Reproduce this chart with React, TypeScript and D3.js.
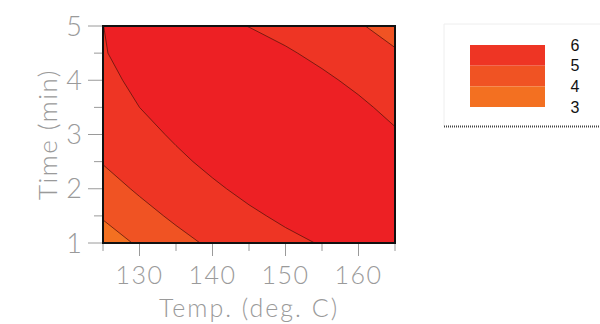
import React, { useMemo } from 'react';
import * as d3 from 'd3';

const WIDTH = 600;
const HEIGHT = 324;

// grid: columns = temperature, rows = time
const temps = [125, 130, 135, 140, 145, 150, 155, 160, 165];
const times = [1, 1.5, 2, 2.5, 3, 3.5, 4, 4.5, 5];
const response = [
  [3.49, 4.13, 4.69, 5.16, 5.54, 5.84, 6.04, 6.16, 6.19],
  [4.09, 4.67, 5.17, 5.57, 5.89, 6.12, 6.26, 6.32, 6.29],
  [4.61, 5.13, 5.56, 5.9, 6.16, 6.32, 6.4, 6.39, 6.3],
  [5.05, 5.5, 5.87, 6.15, 6.34, 6.44, 6.46, 6.39, 6.23],
  [5.4, 5.79, 6.09, 6.31, 6.44, 6.48, 6.43, 6.29, 6.07],
  [5.67, 6.0, 6.24, 6.39, 6.45, 6.43, 6.32, 6.12, 5.83],
  [5.86, 6.12, 6.29, 6.38, 6.38, 6.3, 6.12, 5.86, 5.51],
  [5.975, 6.16, 6.27, 6.29, 6.23, 6.08, 5.84, 5.51, 5.1],
  [5.998, 6.11, 6.16, 6.12, 5.99, 5.78, 5.48, 5.09, 4.61],
];

const levels = [3, 4, 5, 6];
const levelColors = ['#F37021', '#F05323', '#EE3524', '#ED2024'];
const legendLevels = [6, 5, 4, 3];

const xMajor = [130, 140, 150, 160];
const xMinor = [125, 135, 145, 155, 165];
const yMajor = [1, 2, 3, 4, 5];
const yMinor = [1.5, 2.5, 3.5, 4.5];

const margin = { l: 103, r: 205, t: 26, b: 81 };
const plotW = WIDTH - margin.l - margin.r;
const plotH = HEIGHT - margin.t - margin.b;

const axisFont = "'DejaVu Sans ExtraLight', 'Lato Light', 'DejaVu Sans', sans-serif";
const axisGray = '#9a9a9a';

const App = () => {
  const xScale = d3.scaleLinear().domain([125, 165]).range([0, plotW]);
  const yScale = d3.scaleLinear().domain([1, 5]).range([plotH, 0]);

  // contour grid coords: value i sits at i + 0.5
  const gx = d3.scaleLinear().domain([0.5, temps.length - 0.5]).range([xScale(temps[0]), xScale(temps[temps.length - 1])]);
  const gy = d3.scaleLinear().domain([0.5, times.length - 0.5]).range([yScale(times[0]), yScale(times[times.length - 1])]);

  const bands = useMemo(() => {
    const values = response.flat();
    const gen = d3.contours().size([temps.length, times.length]).thresholds(levels);
    const path = d3.geoPath();
    return gen(values).map((c) => {
      const coords = c.coordinates.map((poly) =>
        poly.map((ring) => ring.map(([a, b]) => [gx(a), gy(b)]))
      );
      return { value: c.value, d: path({ type: 'MultiPolygon', coordinates: coords } as any) || '' };
    });
  }, []);

  const ly = d3.scaleLinear().domain([6, 3]).range([45, 107]);

  return (
    <svg width={WIDTH} height={HEIGHT} style={{ position: 'absolute', left: 0, top: 0 }}>
      <defs>
        <clipPath id="plot-clip">
          <rect x={0} y={0} width={plotW} height={plotH} />
        </clipPath>
      </defs>
      <rect width={WIDTH} height={HEIGHT} fill="#fff" />
      <g transform={`translate(${margin.l}, ${margin.t})`}>
        <g clipPath="url(#plot-clip)">
          {bands.map((b, i) => (
            <path key={`f-${i}`} d={b.d} fill={levelColors[i]} stroke="none" />
          ))}
          {bands.slice(1).map((b, i) => (
            <path key={`s-${i}`} d={b.d} fill="none" stroke="rgba(80,20,10,0.8)" strokeWidth={0.9} />
          ))}
        </g>
        <rect x={0} y={0} width={plotW} height={plotH} fill="none" stroke="#111" strokeWidth={2} />

        {/* x ticks */}
        {xMajor.map((v) => (
          <line key={`xM-${v}`} x1={xScale(v)} x2={xScale(v)} y1={plotH + 1} y2={plotH + 13} stroke={axisGray} />
        ))}
        {xMinor.map((v) => (
          <line key={`xm-${v}`} x1={xScale(v)} x2={xScale(v)} y1={plotH + 1} y2={plotH + 8} stroke={axisGray} />
        ))}
        {xMajor.map((v) => (
          <text
            key={`xt-${v}`}
            x={xScale(v)}
            y={plotH + 41}
            textAnchor="middle"
            fontFamily={axisFont}
            fontWeight={200}
            fontSize={25}
            letterSpacing={1.5}
            fill={axisGray}
          >
            {v}
          </text>
        ))}
        <text
          x={plotW / 2}
          y={plotH + 74}
          textAnchor="middle"
          fontFamily={axisFont}
          fontWeight={200}
          fontSize={25}
          letterSpacing={2}
          fill={axisGray}
        >
          Temp. (deg. C)
        </text>

        {/* y ticks */}
        {yMajor.map((v) => (
          <line key={`yM-${v}`} x1={-15} x2={-1} y1={yScale(v)} y2={yScale(v)} stroke={axisGray} />
        ))}
        {yMinor.map((v) => (
          <line key={`ym-${v}`} x1={-9} x2={-1} y1={yScale(v)} y2={yScale(v)} stroke={axisGray} />
        ))}
        {yMajor.map((v) => (
          <text
            key={`yt-${v}`}
            x={-21}
            y={yScale(v)}
            dy="0.36em"
            textAnchor="end"
            fontFamily={axisFont}
            fontWeight={200}
            fontSize={27}
            fill={axisGray}
          >
            {v}
          </text>
        ))}
        <text
          transform={`translate(${-46}, ${plotH / 2}) rotate(-90)`}
          textAnchor="middle"
          fontFamily={axisFont}
          fontWeight={200}
          fontSize={26}
          letterSpacing={1.5}
          fill={axisGray}
        >
          Time (min)
        </text>
      </g>

      {/* legend */}
      <g>
        <line x1={444} x2={WIDTH} y1={24} y2={24} stroke="#eee" />
        <line x1={444} x2={444} y1={24} y2={126} stroke="#eee" />
        <line x1={444} x2={WIDTH} y1={126.5} y2={126.5} stroke="#444" strokeWidth={2} strokeDasharray="1,1" />
        {legendLevels.slice(1).map((lv) => (
          <rect
            key={`lg-${lv}`}
            x={470}
            y={ly(lv + 1)}
            width={75}
            height={ly(lv) - ly(lv + 1)}
            fill={levelColors[levels.indexOf(lv)]}
          />
        ))}
        {legendLevels.map((lv) => (
          <text
            key={`ll-${lv}`}
            x={575}
            y={ly(lv)}
            dy="0.36em"
            textAnchor="middle"
            fontFamily="'Liberation Sans', Arial, sans-serif"
            fontSize={16}
            fill="#111"
          >
            {lv}
          </text>
        ))}
      </g>
    </svg>
  );
};

export default App;
